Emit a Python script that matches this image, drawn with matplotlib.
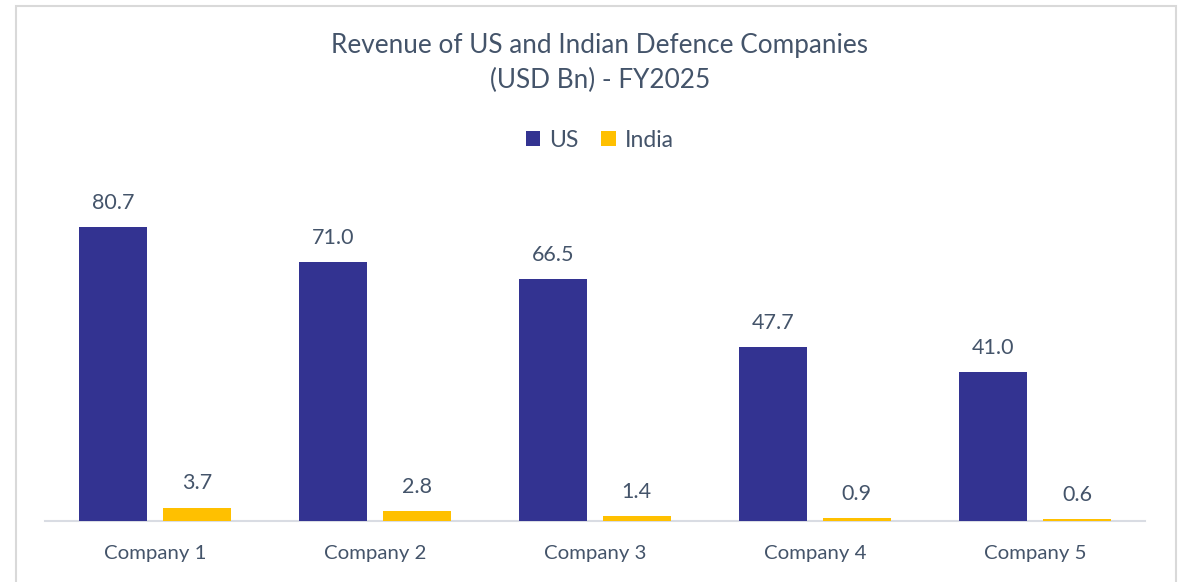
import matplotlib.pyplot as plt
from matplotlib.patches import Rectangle
import numpy as np

companies = ['Company 1', 'Company 2', 'Company 3', 'Company 4', 'Company 5']
us_rev = [80.7, 71.0, 66.5, 47.7, 41.0]
india_rev = [3.7, 2.8, 1.4, 0.9, 0.6]

plt.rcParams['font.family'] = ['Lato', 'DejaVu Sans']
txt = '#44546A'

fig = plt.figure(figsize=(11.83, 5.82), dpi=100)
ax = fig.add_axes([0.038, 0.1048, 0.93, 0.577])

x = np.arange(len(companies))
w = 0.31
b1 = ax.bar(x - 0.19, us_rev, w, color='#333391', label='US', zorder=3)
b2 = ax.bar(x + 0.19, india_rev, w, color='#FFC000', label='India', zorder=3)

for bars, vals in ((b1, us_rev), (b2, india_rev)):
    for r, v in zip(bars, vals):
        ax.text(r.get_x() + r.get_width() / 2, v + 6.6, '%.1f' % v,
                ha='center', va='center', fontsize=15.5, color=txt)

ax.set_xlim(-0.5, 4.5)
ax.set_ylim(0, 92.2)
ax.set_xticks(x)
ax.set_xticklabels(companies, fontsize=14.7, color=txt)
ax.tick_params(axis='x', length=0, pad=17)
ax.set_yticks([])
for s in ['top', 'right', 'left']:
    ax.spines[s].set_visible(False)
ax.spines['bottom'].set_color('#D9DCE3')
ax.spines['bottom'].set_linewidth(1.5)

fig.text(0.507, 0.922, 'Revenue of US and Indian Defence Companies', ha='center',
         va='center', fontsize=18.8, color=txt)
fig.text(0.507, 0.862, '(USD Bn) - FY2025', ha='center', va='center',
         fontsize=18.8, color=txt)

fig.legend(loc='center', bbox_to_anchor=(0.507, 0.759), ncol=2, frameon=False,
           fontsize=16.5, labelcolor=txt, handlelength=0.62, handleheight=0.62,
           handletextpad=0.4, columnspacing=1.0)

# chart border (bottom edge cut off)
fig.patches.append(Rectangle((16 / 1183, -0.05), 1160 / 1183, 1.05 - 6 / 582,
                             transform=fig.transFigure, fill=False,
                             edgecolor='#D9D9D9', linewidth=1.5))

fig.savefig('out.png', dpi=100)
